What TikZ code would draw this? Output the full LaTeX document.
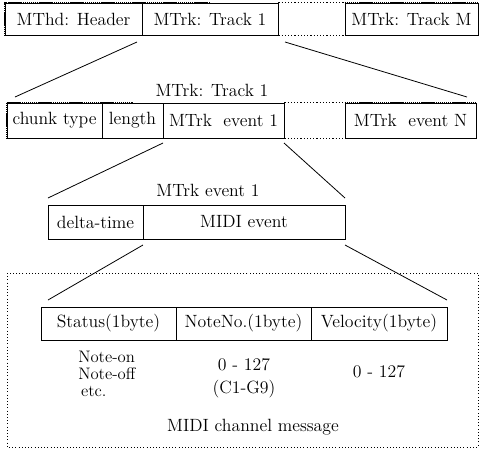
\documentclass[tikz,border=0pt]{standalone}
\usepackage{tikz}
\usetikzlibrary{calc}
\tikzset{cell/.style={draw, line width=0.65pt, inner sep=0pt, minimum height=#1},
    rough/.style={line width=1.1pt, dash pattern={on 1.1pt off 0.45pt}},
    gapline/.style={line width=0.7pt, dash pattern={on 0.8pt off 1.6pt}},
    zoomline/.style={line width=0.6pt},
    txt/.style={inner sep=0.75pt}}

\begin{document}
\begin{tikzpicture}[x=0.75pt,y=0.75pt,yscale=-1,xscale=1,font=\fontsize{13.3}{15}\selectfont]
\useasboundingbox (0,0) rectangle (484,450);

%Row 1: file chunks
\node [cell=24pt, minimum width=102.75pt] (hdr) at (73.5,19) {MThd: Header};
\node [cell=24pt, minimum width=102pt] (trk1) at (210,19) {MTrk: Track 1};
\node [cell=24pt, minimum width=99.75pt] (trkM) at (411.5,19) {MTrk: Track M};
\draw [rough] (trk1.north) -| (hdr.west) |- (trk1.south) ;
\draw [rough] (trkM.north west) -| (trkM.east) |- (trkM.south west) ;
\draw [gapline] (trk1.north east) -- (trkM.north west) ;
\draw [gapline] (trk1.south east) -- (trkM.south west) ;

%Zoom lines 1
\coordinate (z1a) at (137,42); \coordinate (z1b) at (15,97);
\coordinate (z1c) at (285,42); \coordinate (z1d) at (467,97);
\draw [zoomline] (z1a) -- (z1b) ;
\draw [zoomline] (z1c) -- (z1d) ;

% Text Node
\node [txt] (ttrk) at (212,90) {MTrk: Track 1};

%Row 2: track chunk
\node [cell=26.25pt, minimum width=71.25pt] (ctype) at (54.5,120.5) {chunk type};
\node [cell=26.25pt, minimum width=45.75pt] (clen) at (132.5,120.5) {length};
\node [cell=26.25pt, minimum width=90.75pt] (ev1) at (223.5,120.5) {MTrk\ \ event 1};
\node [cell=26.25pt, minimum width=98.25pt] (evN) at (410.5,120.5) {MTrk\ \ event N};
\draw [rough] (clen.north) -| (ctype.west) |- (clen.south) ;
\draw [rough] (evN.north west) -| (evN.east) |- (evN.south west) ;
\draw [gapline] (ev1.north east) -- (evN.north west) ;
\draw [gapline] (ev1.south east) -- (evN.south west) ;

%Zoom lines 2
\coordinate (z2a) at (163,143); \coordinate (z2b) at (48,198);
\coordinate (z2c) at (284,143); \coordinate (z2d) at (345,198);
\draw [zoomline] (z2a) -- (z2b) ;
\draw [zoomline] (z2c) -- (z2d) ;

% Text Node
\node [txt] (tev1) at (208,190) {MTrk event 1};

%Row 3: track event
\node [cell=25.5pt, minimum width=71.25pt] (dtime) at (95.5,222) {delta-time};
\node [cell=25.5pt, minimum width=151.5pt] (mevt) at (244,222) {MIDI event};

%Zoom lines 3
\coordinate (z3a) at (143,245); \coordinate (z3b) at (48,300);
\coordinate (z3c) at (345,245); \coordinate (z3d) at (447,300);
\draw [zoomline] (z3a) -- (z3b) ;
\draw [zoomline] (z3c) -- (z3d) ;

%Dotted frame: channel message
\draw [gapline] (7,273) rectangle (478,447) ;

%Row 4: message bytes
\node [cell=24.75pt, minimum width=101.25pt] (stat) at (108.5,323.5) {Status(1byte)};
\node [cell=24.75pt, minimum width=101.25pt] (nno) at (243.5,323.5) {NoteNo.(1byte)};
\node [cell=24.75pt, minimum width=102pt] (vel) at (379,323.5) {Velocity(1byte)};

% Text Node
\node [txt, anchor=north west, align=left, font=\fontsize{12.5}{12.75}\selectfont] (statv) at (77,350) {Note-on\\Note-off\\\,etc.};
% Text Node
\node [txt, align=center] (nnov) at (244,378) {0 - 127\\[2pt](C1-G9)};
% Text Node
\node [txt] (velv) at (379,372) {0 - 127};
% Text Node
\node [txt] (msg) at (253,427) {MIDI channel message};

\end{tikzpicture}
\end{document}
